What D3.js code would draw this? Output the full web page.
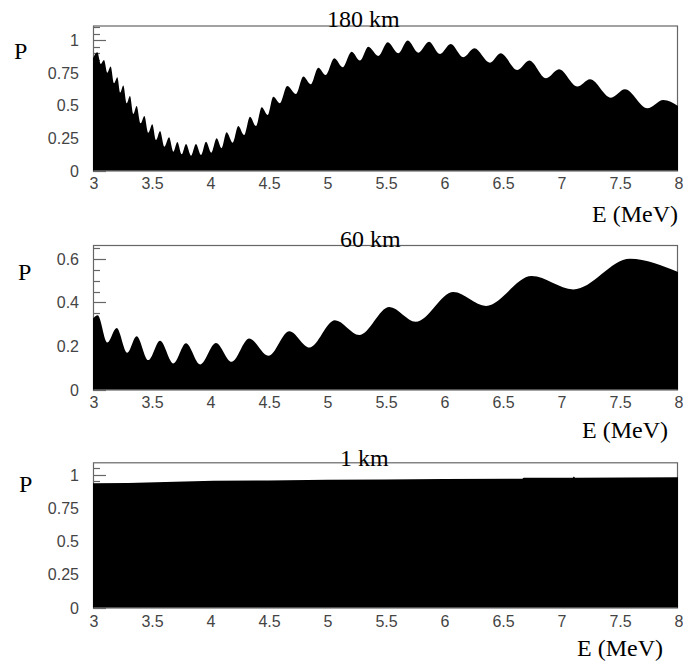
<!DOCTYPE html>
<html><head><meta charset="utf-8">
<script src="https://cdn.jsdelivr.net/npm/d3@7"></script>
<style>html,body{margin:0;padding:0;background:#fff;}svg{display:block;}</style>
</head><body>
<script>
// ---- data ----
const xTicks = [3, 3.5, 4, 4.5, 5, 5.5, 6, 6.5, 7, 7.5, 8];
const xTickLabels = ["3","3.5","4","4.5","5","5.5","6","6.5","7","7.5","8"];
const titles = ["180 km", "60 km", "1 km"];

const energy180 = [3.000,3.037,3.066,3.094,3.122,3.151,3.180,3.208,3.233,3.259,3.288,3.316,3.345,3.373,3.407,3.439,3.473,3.507,3.539,3.573,3.610,3.650,3.687,3.721,3.758,3.795,3.838,3.880,3.923,3.966,4.011,4.057,4.099,4.142,4.194,4.242,4.291,4.342,4.393,4.442,4.493,4.541,4.598,4.660,4.735,4.798,4.860,4.926,4.989,5.063,5.134,5.211,5.282,5.353,5.439,5.519,5.609,5.690,5.780,5.872,5.966,6.057,6.165,6.259,6.393,6.484,6.627,6.729,6.872,6.983,7.140,7.248,7.427,7.547,7.738,7.875,8.000];
const prob180   = [0.863,0.909,0.819,0.850,0.752,0.800,0.671,0.717,0.599,0.653,0.517,0.573,0.435,0.496,0.363,0.419,0.291,0.355,0.235,0.304,0.183,0.255,0.145,0.219,0.124,0.204,0.114,0.204,0.119,0.222,0.137,0.248,0.171,0.294,0.214,0.342,0.273,0.414,0.342,0.486,0.427,0.568,0.517,0.650,0.588,0.722,0.663,0.791,0.735,0.863,0.794,0.914,0.845,0.952,0.881,0.986,0.901,0.999,0.906,0.991,0.896,0.973,0.871,0.940,0.829,0.901,0.773,0.845,0.709,0.778,0.645,0.701,0.560,0.624,0.478,0.542,0.496];

const energy60 = [3.000,3.040,3.122,3.202,3.293,3.373,3.473,3.573,3.687,3.795,3.915,4.051,4.185,4.335,4.499,4.678,4.849,5.068,5.276,5.533,5.758,6.080,6.359,6.749,7.105,7.590,8.000];
const prob60   = [0.326,0.341,0.216,0.283,0.169,0.245,0.135,0.224,0.120,0.212,0.115,0.214,0.127,0.234,0.155,0.268,0.193,0.318,0.250,0.379,0.311,0.448,0.384,0.521,0.460,0.601,0.540];

const energy1 = [3.00,3.30,3.46,3.70,4.03,4.50,5.00,5.50,6.00,6.67,6.68,7.10,7.11,7.12,8.00];
const prob1   = [0.934,0.936,0.941,0.946,0.953,0.956,0.960,0.963,0.966,0.968,0.976,0.976,0.985,0.976,0.979];

const yTicks180 = [0, 0.25, 0.5, 0.75, 1];
const yTickLabels180 = ["0","0.25","0.5","0.75","1"];
const yTicks60 = [0, 0.2, 0.4, 0.6];
const yTickLabels60 = ["0","0.2","0.4","0.6"];
const yTicks1 = [0, 0.25, 0.5, 0.75, 1];
const yTickLabels1 = ["0","0.25","0.5","0.75","1"];

// ---- layout ----
const W = 683, H = 665;
const svg = d3.select("body").append("svg").attr("width", W).attr("height", H);
const xLeft = 93, xRight = 678;

const panels = [
  {E: energy180, P: prob180, yMax: 1.115, top: 25.5, bottom: 170.5, ticks: yTicks180, tickLabels: yTickLabels180, minor: 0.05,
   title: titles[0], titleX: 327, titleY: 27, pY: 59, pX: 14, xLabY: 189, eRight: 678, eY: 222, curve: d3.curveMonotoneX},
  {E: energy60, P: prob60, yMax: 0.664, top: 245, bottom: 389.5, ticks: yTicks60, tickLabels: yTickLabels60, minor: 0.05,
   title: titles[1], titleX: 340, titleY: 247, pY: 280, pX: 18, xLabY: 408, eRight: 668, eY: 438, curve: d3.curveMonotoneX},
  {E: energy1, P: prob1, yMax: 1.092, top: 462.3, bottom: 607.5, ticks: yTicks1, tickLabels: yTickLabels1, minor: 0.05,
   title: titles[2], titleX: 340, titleY: 466, pY: 492, pX: 19, xLabY: 627, eRight: 663, eY: 656, curve: d3.curveLinear}
];

const grey = "#666";
panels.forEach(p => {
  const x = d3.scaleLinear().domain([3, 8]).range([xLeft, xRight]);
  const y = d3.scaleLinear().domain([0, p.yMax]).range([p.bottom, p.top]);
  const g = svg.append("g");

  // frame
  g.append("rect").attr("x", xLeft + 0.5).attr("y", p.top + 0.5)
    .attr("width", xRight - xLeft - 1).attr("height", p.bottom - p.top)
    .attr("fill", "none").attr("stroke", grey).attr("stroke-width", 1.2);

  // y ticks (inside), major + minor
  const nMinor = Math.floor(p.yMax / p.minor + 1e-6);
  for (let i = 0; i <= nMinor; i++) {
    const v = i * p.minor;
    const isMajor = p.ticks.some(t => Math.abs(t - v) < 1e-6);
    g.append("line").attr("x1", xLeft).attr("x2", xLeft + (isMajor ? 13 : 7))
      .attr("y1", Math.round(y(v)) + 0.5).attr("y2", Math.round(y(v)) + 0.5)
      .attr("stroke", grey).attr("stroke-width", 1.2);
  }

  // filled area
  const pts = p.E.map((e, i) => [e, p.P[i]]);
  const area = d3.area().x(d => x(d[0])).y0(y(0)).y1(d => y(d[1])).curve(p.curve);
  g.append("path").datum(pts).attr("d", area).attr("fill", "#000");

  // y tick labels
  g.selectAll(null).data(p.ticks).enter().append("text")
    .attr("x", 79).attr("y", (d) => y(d) + 6)
    .attr("text-anchor", "end")
    .attr("font-family", "Liberation Sans, Arial, sans-serif").attr("font-size", 16)
    .attr("fill", "#444")
    .text((d, i) => p.tickLabels[i]);

  // x tick labels
  g.selectAll(null).data(xTicks).enter().append("text")
    .attr("x", d => x(d) + 1).attr("y", p.xLabY)
    .attr("text-anchor", "middle")
    .attr("font-family", "Liberation Sans, Arial, sans-serif").attr("font-size", 16)
    .attr("fill", "#444")
    .text((d, i) => xTickLabels[i]);

  // title
  g.append("text").attr("x", p.titleX).attr("y", p.titleY)
    .attr("font-family", "Liberation Serif, Times New Roman, serif").attr("font-size", 24)
    .attr("fill", "#000").text(p.title);

  // P label
  g.append("text").attr("x", p.pX).attr("y", p.pY)
    .attr("font-family", "Liberation Serif, Times New Roman, serif").attr("font-size", 24)
    .attr("fill", "#000").text("P");

  // E label
  g.append("text").attr("x", p.eRight).attr("y", p.eY).attr("text-anchor", "end")
    .attr("font-family", "Liberation Serif, Times New Roman, serif").attr("font-size", 24)
    .attr("fill", "#000").text("E (MeV)");
});
</script>
</body></html>
